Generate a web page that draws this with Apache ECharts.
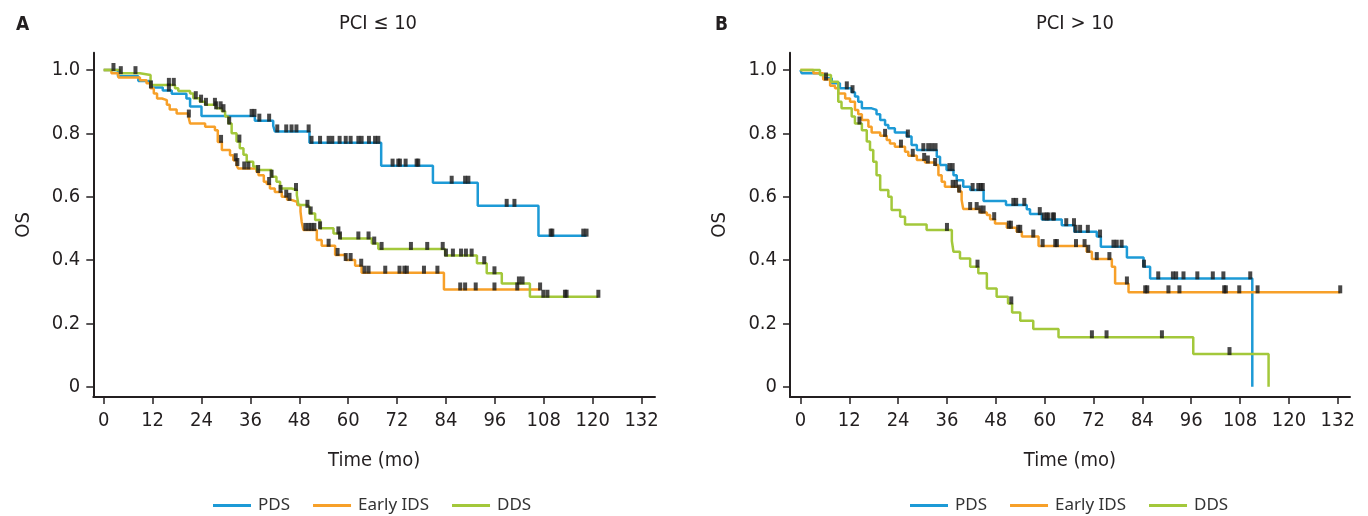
<!DOCTYPE html>
<html><head><meta charset="utf-8">
<script src="https://cdn.jsdelivr.net/npm/echarts@6/dist/echarts.min.js"></script>
<style>html,body{margin:0;padding:0;background:#fff}#c{width:1368px;height:516px}</style>
</head><body><div id="c"></div>
<script>
// ---------- tick labels / categories ----------
const xTicks = [0, 12, 24, 36, 48, 60, 72, 84, 96, 108, 120, 132];
const yTicks = [0, 0.2, 0.4, 0.6, 0.8, 1.0];
const groupNames = ['PDS', 'Early IDS', 'DDS'];
const panelTitles = ['PCI \u2264 10', 'PCI > 10'];
const panelLetters = ['A', 'B'];

// ---------- Panel A (PCI <= 10) ----------
const A_PDS_time = [0, 3.5, 8.5, 11.5, 14.5, 16.7, 20.3, 21.2, 24.0, 37.1, 41.6, 42.0, 50.5, 68.1, 80.8, 91.8, 106.7];
const A_PDS_surv = [1, 0.98, 0.965, 0.945, 0.935, 0.925, 0.91, 0.885, 0.855, 0.84, 0.824, 0.806, 0.77, 0.698, 0.644, 0.571, 0.477];
const A_PDS_end = 118.5;
const A_PDS_cens = [11.6, 16.0, 36.3, 37.0, 38.2, 40.6, 42.6, 44.8, 46.1, 47.3, 50.3, 51.0, 53.1, 55.2, 56.1, 57.9, 59.4, 60.6, 62.5, 63.3, 65.1, 66.6, 67.4, 70.9, 72.3, 72.7, 74.1, 76.8, 77.2, 85.4, 88.7, 89.5, 98.9, 100.8, 109.7, 110.1, 117.7, 118.5];

const A_IDS_time = [0, 1.9, 3.6, 8.9, 10.5, 11.5, 12.3, 13.1, 14.3, 15.5, 16.2, 17.9, 20.8, 21.2, 24.9, 27.3, 28.0, 29.0, 31.0, 31.8, 32.6, 33.0, 37.5, 38.0, 39.3, 40.0, 40.8, 42.0, 43.7, 45.0, 46.0, 47.5, 48.3, 48.6, 49.0, 52.3, 53.5, 56.8, 59.4, 61.7, 63.3, 83.5];
const A_IDS_surv = [1, 0.99, 0.976, 0.968, 0.958, 0.942, 0.926, 0.91, 0.905, 0.89, 0.875, 0.863, 0.853, 0.831, 0.821, 0.81, 0.773, 0.747, 0.731, 0.715, 0.70, 0.689, 0.678, 0.668, 0.647, 0.64, 0.626, 0.615, 0.60, 0.59, 0.584, 0.574, 0.553, 0.52, 0.495, 0.463, 0.445, 0.416, 0.40, 0.382, 0.36, 0.307];
const A_IDS_end = 107.1;
const A_IDS_cens = [20.9, 28.8, 32.4, 32.8, 34.5, 35.5, 37.9, 40.6, 43.4, 44.8, 45.6, 49.5, 50.3, 51.0, 51.7, 55.2, 57.4, 59.4, 60.6, 63.2, 64.0, 65.0, 69.1, 72.6, 73.8, 74.4, 78.6, 81.9, 87.5, 88.7, 91.3, 95.9, 101.5, 107.1];

const A_DDS_time = [0, 4.0, 8.9, 11.5, 17.5, 18.3, 21.2, 22.0, 23.6, 24.9, 27.6, 29.0, 29.8, 30.6, 31.4, 32.6, 33.4, 34.3, 35.1, 36.7, 37.5, 41.2, 42.4, 43.3, 46.1, 47.4, 47.8, 49.8, 50.5, 51.9, 53.1, 56.4, 58.0, 65.8, 67.4, 83.8, 91.6, 94.0, 97.7, 104.6];
const A_DDS_surv = [1, 0.99, 0.984, 0.953, 0.942, 0.934, 0.926, 0.911, 0.90, 0.89, 0.879, 0.87, 0.853, 0.831, 0.80, 0.774, 0.753, 0.732, 0.71, 0.695, 0.684, 0.663, 0.647, 0.626, 0.621, 0.605, 0.574, 0.568, 0.547, 0.526, 0.50, 0.484, 0.468, 0.452, 0.435, 0.414, 0.39, 0.358, 0.326, 0.284];
const A_DDS_end = 121.4;
const A_DDS_cens = [2.4, 4.2, 7.8, 16.0, 17.2, 22.6, 23.9, 25.1, 27.3, 27.6, 28.7, 29.4, 30.8, 33.3, 41.2, 47.2, 50.0, 50.8, 53.1, 57.6, 58.0, 62.5, 65.0, 66.4, 68.2, 75.4, 79.4, 83.2, 84.0, 85.7, 87.7, 88.9, 90.3, 93.4, 95.9, 101.9, 102.8, 107.9, 108.9, 113.2, 113.6, 121.4];

// ---------- Panel B (PCI > 10) ----------
const B_PDS_time = [0, 0.3, 4.4, 5.6, 7.7, 9.7, 12.6, 13.4, 14.2, 15.1, 17.5, 18.7, 19.6, 20.8, 21.6, 23.2, 26.1, 27.3, 28.6, 33.5, 34.3, 35.9, 37.6, 38.4, 40.0, 41.7, 45.0, 50.5, 55.6, 56.4, 59.3, 64.2, 67.3, 72.8, 73.8, 80.2, 84.3, 85.9, 111.0];
const B_PDS_surv = [1, 0.99, 0.984, 0.974, 0.958, 0.942, 0.93, 0.916, 0.90, 0.879, 0.874, 0.86, 0.842, 0.826, 0.816, 0.803, 0.79, 0.763, 0.747, 0.726, 0.70, 0.684, 0.668, 0.652, 0.631, 0.621, 0.586, 0.574, 0.56, 0.545, 0.528, 0.51, 0.489, 0.474, 0.442, 0.408, 0.379, 0.342, 0];
const B_PDS_end = 111.0;
const B_PDS_cens = [11.4, 12.8, 26.4, 30.2, 31.4, 32.3, 33.2, 36.6, 37.4, 42.3, 43.7, 44.3, 44.8, 52.3, 53.0, 55.0, 58.8, 59.8, 60.5, 60.9, 62.0, 62.3, 65.3, 67.2, 67.6, 68.7, 70.6, 73.6, 76.9, 77.7, 78.9, 84.4, 87.9, 91.5, 92.3, 94.1, 97.5, 101.3, 103.9, 110.5];

const B_IDS_time = [0, 3.2, 5.6, 7.3, 8.5, 9.3, 11.0, 12.2, 13.4, 14.2, 15.1, 16.7, 17.5, 19.6, 21.2, 22.0, 23.2, 25.7, 26.5, 28.6, 30.6, 33.1, 33.9, 34.7, 35.5, 38.8, 39.6, 40.0, 44.1, 45.8, 46.6, 47.8, 50.7, 53.1, 54.4, 58.5, 70.3, 71.6, 76.5, 77.3, 80.6];
const B_IDS_surv = [1, 0.99, 0.97, 0.95, 0.942, 0.926, 0.91, 0.90, 0.874, 0.86, 0.842, 0.821, 0.803, 0.792, 0.779, 0.768, 0.758, 0.742, 0.729, 0.716, 0.708, 0.70, 0.668, 0.647, 0.631, 0.616, 0.59, 0.561, 0.55, 0.542, 0.529, 0.515, 0.502, 0.489, 0.474, 0.444, 0.426, 0.403, 0.379, 0.326, 0.298];
const B_IDS_end = 132.6;
const B_IDS_cens = [6.3, 20.8, 24.7, 27.6, 30.4, 31.3, 33.1, 37.4, 38.2, 39.0, 41.7, 43.3, 44.2, 45.0, 47.6, 51.2, 51.7, 53.5, 54.0, 57.2, 59.5, 62.6, 63.0, 67.7, 69.8, 70.7, 72.8, 75.9, 80.2, 84.7, 85.2, 90.4, 93.1, 104.1, 104.5, 107.8, 112.3, 132.6];

const B_DDS_time = [0, 4.8, 7.5, 9.3, 10.1, 12.6, 13.4, 15.1, 16.3, 17.1, 17.9, 18.7, 19.6, 21.6, 22.4, 24.5, 25.7, 31.0, 37.2, 37.6, 39.2, 41.7, 43.7, 45.8, 48.2, 51.0, 52.0, 54.0, 57.2, 63.4, 96.5, 115.0];
const B_DDS_surv = [1, 0.984, 0.963, 0.90, 0.879, 0.853, 0.831, 0.81, 0.774, 0.747, 0.71, 0.668, 0.621, 0.60, 0.558, 0.537, 0.512, 0.495, 0.46, 0.426, 0.405, 0.379, 0.358, 0.31, 0.284, 0.263, 0.234, 0.208, 0.182, 0.156, 0.103, 0];
const B_DDS_end = 115.0;
const B_DDS_cens = [14.5, 36.0, 43.5, 51.8, 71.6, 75.2, 88.8, 105.4];

// ---------- helpers ----------
function stepPoints(time, surv, end) {
  const pts = time.map((t, i) => [t, surv[i]]);
  if (end > time[time.length - 1]) pts.push([end, surv[surv.length - 1]]);
  return pts;
}
function survAt(time, surv, t) {
  let s = surv[0];
  for (let i = 0; i < time.length; i++) { if (time[i] <= t) s = surv[i]; }
  return s;
}
function censPoints(time, surv, cens) {
  return cens.map(t => [t, survAt(time, surv, t)]);
}

const colors = ['#1d9ad6', '#f7a029', '#a3c83b'];
const ink = '#231f20';
const tickFont = '"Liberation Sans Narrow", "DejaVu Sans Condensed", sans-serif';
const legendFont = '"Noto Sans", "Open Sans", sans-serif';

const panels = [
  { groups: [[A_PDS_time, A_PDS_surv, A_PDS_end, A_PDS_cens], [A_IDS_time, A_IDS_surv, A_IDS_end, A_IDS_cens], [A_DDS_time, A_DDS_surv, A_DDS_end, A_DDS_cens]],
    grid: { left: 93.3, top: 52.7, width: 561.7, height: 344.3 }, xmin: -2.55, xmax: 135.3, legendLeft: 213, titleX: 373, letterX: 11 },
  { groups: [[B_PDS_time, B_PDS_surv, B_PDS_end, B_PDS_cens], [B_IDS_time, B_IDS_surv, B_IDS_end, B_IDS_cens], [B_DDS_time, B_DDS_surv, B_DDS_end, B_DDS_cens]],
    grid: { left: 790, top: 52.7, width: 560, height: 344.3 }, xmin: -2.555, xmax: 135.0, legendLeft: 910, titleX: 1070, letterX: 710 }
];

const option = { animation: false, backgroundColor: '#fff', grid: [], xAxis: [], yAxis: [], series: [], legend: [], title: [] };

panels.forEach((p, pi) => {
  option.grid.push(p.grid);
  option.xAxis.push({
    type: 'value', gridIndex: pi, min: p.xmin, max: p.xmax,
    name: 'Time (mo)', nameLocation: 'middle', nameGap: 54,
    nameTextStyle: { fontFamily: tickFont, fontSize: 20, color: ink },
    axisLine: { show: true, onZero: false, lineStyle: { color: ink, width: 2 } },
    axisTick: { show: true, customValues: xTicks, length: 7, lineStyle: { color: ink, width: 1.5 } },
    axisLabel: { customValues: xTicks, margin: 14, fontFamily: tickFont, fontSize: 20, color: ink },
    splitLine: { show: false }
  });
  option.yAxis.push({
    type: 'value', gridIndex: pi, min: -0.0325, max: 1.0546,
    name: 'OS', nameLocation: 'middle', nameGap: 60,
    nameTextStyle: { fontFamily: tickFont, fontSize: 20, color: ink },
    axisLine: { show: true, onZero: false, lineStyle: { color: ink, width: 2 } },
    axisTick: { show: true, customValues: yTicks, length: 7, lineStyle: { color: ink, width: 1.5 } },
    axisLabel: { customValues: yTicks, margin: 13, fontFamily: tickFont, fontSize: 20, color: ink,
      formatter: v => (v === 0 ? '0' : v.toFixed(1)) },
    splitLine: { show: false }
  });
  const cens = [];
  p.groups.forEach((g, gi) => {
    option.series.push({
      type: 'line', name: groupNames[gi], xAxisIndex: pi, yAxisIndex: pi, step: 'end',
      showSymbol: false, symbol: 'none', data: stepPoints(g[0], g[1], g[2]),
      lineStyle: { color: colors[gi], width: 2.5 }, itemStyle: { color: colors[gi] }, z: 2
    });
    censPoints(g[0], g[1], g[3]).forEach(c => cens.push(c));
  });
  option.series.push({
    type: 'scatter', xAxisIndex: pi, yAxisIndex: pi, data: cens,
    symbol: 'rect', symbolSize: [4, 8], symbolOffset: [0, -3],
    itemStyle: { color: '#1a1a1a' }, z: 5, silent: true
  });
  option.legend.push({
    left: p.legendLeft, top: 497, orient: 'horizontal', data: groupNames, padding: 0,
    icon: 'rect', itemWidth: 38, itemHeight: 3, itemGap: 23,
    textStyle: { fontFamily: legendFont, fontSize: 17, color: '#333', padding: [0, 0, 0, 2] }
  });
  option.title.push({
    text: panelTitles[pi], left: p.titleX, top: 9, textAlign: 'center',
    textStyle: { fontFamily: tickFont, fontSize: 20, fontWeight: 'normal', color: ink }
  });
  option.title.push({
    text: panelLetters[pi], left: p.letterX, top: 11,
    textStyle: { fontFamily: tickFont, fontSize: 19, fontWeight: 'bold', color: ink }
  });
});

const chart = echarts.init(document.getElementById('c'), null, { renderer: 'canvas' });
chart.setOption(option);
</script>
</body></html>
